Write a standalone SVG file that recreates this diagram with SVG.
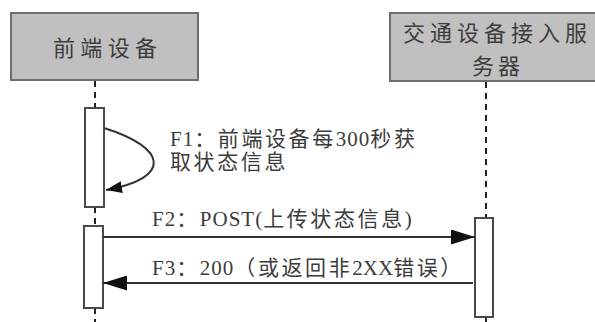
<svg xmlns="http://www.w3.org/2000/svg" width="595" height="322" viewBox="0 0 595 322">
<style>
  .actor { fill: #c0c0c0; stroke: #6e6e6e; stroke-width: 2; }
  .act { fill: #ffffff; stroke: #4a4a4a; stroke-width: 2; }
  .life { stroke: #222; stroke-width: 2; stroke-dasharray: 6 5; fill: none; }
  .msg { stroke: #333; stroke-width: 2; fill: none; }
  .t { font-family: "Liberation Serif", "Noto Sans CJK SC", serif; fill: #3c3c3c; }
  .lbl { font-size: 21px; }
  .hd { font-size: 22px; }
  .c { letter-spacing: 2.6px; }
  .l { letter-spacing: 1px; }
</style>
<defs>
  <marker id="ah" viewBox="0 0 24 15" refX="24" refY="7.5" markerWidth="24" markerHeight="15" markerUnits="userSpaceOnUse" orient="auto">
    <path d="M0,0 L24,7.5 L0,15 z" fill="#111"/>
  </marker>
  <marker id="ahs" viewBox="0 0 16 12" refX="16" refY="6" markerWidth="16" markerHeight="12" markerUnits="userSpaceOnUse" orient="auto">
    <path d="M0,0 L16,6 L0,12 z" fill="#111"/>
  </marker>
</defs>

<g id="lifelines">
  <line class="life" x1="95" y1="81" x2="95" y2="108"/>
  <line class="life" x1="95" y1="207" x2="95" y2="226"/>
  <line class="life" x1="95" y1="308" x2="95" y2="322"/>
  <line class="life" x1="486" y1="82" x2="486" y2="218"/>
  <line class="life" x1="486" y1="317" x2="486" y2="322"/>
</g>

<g id="frontend">
  <rect class="actor" x="11" y="13" width="187" height="67"/>
  <text class="t hd" x="53" y="56" textLength="104" lengthAdjust="spacing">前端设备</text>
</g>

<g id="server">
  <rect class="actor" x="390" y="13" width="215" height="68"/>
  <text class="t hd" x="403" y="41" textLength="184" lengthAdjust="spacing">交通设备接入服</text>
  <text class="t hd" x="472" y="74" textLength="48" lengthAdjust="spacing">务器</text>
</g>

<g id="activations">
  <rect class="act" x="85" y="108" width="19" height="99"/>
  <rect class="act" x="84" y="226" width="19" height="82"/>
  <rect class="act" x="475" y="218" width="18" height="99"/>
</g>

<g id="connectors">
  <path class="msg" d="M104,128 C168,148 172,178 106,190" marker-end="url(#ahs)"/>
  <line class="msg" x1="103" y1="237" x2="475" y2="237" marker-end="url(#ah)"/>
  <line class="msg" x1="473" y1="283" x2="103" y2="283" marker-end="url(#ah)"/>
</g>

<g id="labels">
  <text class="t lbl" x="170" y="146"><tspan class="l">F1</tspan><tspan class="c">：前端设备每</tspan><tspan class="l">300</tspan><tspan class="c">秒获</tspan></text>
  <text class="t lbl c" x="170" y="169">取状态信息</text>
  <text class="t lbl" x="152" y="226"><tspan class="l">F2</tspan><tspan class="c">：</tspan><tspan class="l">POST(</tspan><tspan class="c">上传状态信息</tspan>)</text>
  <text class="t lbl" x="152" y="275"><tspan class="l">F3</tspan><tspan class="c">：</tspan><tspan class="l">200</tspan><tspan class="c">（或返回非</tspan>2XX<tspan class="c">错误）</tspan></text>
</g>
</svg>
